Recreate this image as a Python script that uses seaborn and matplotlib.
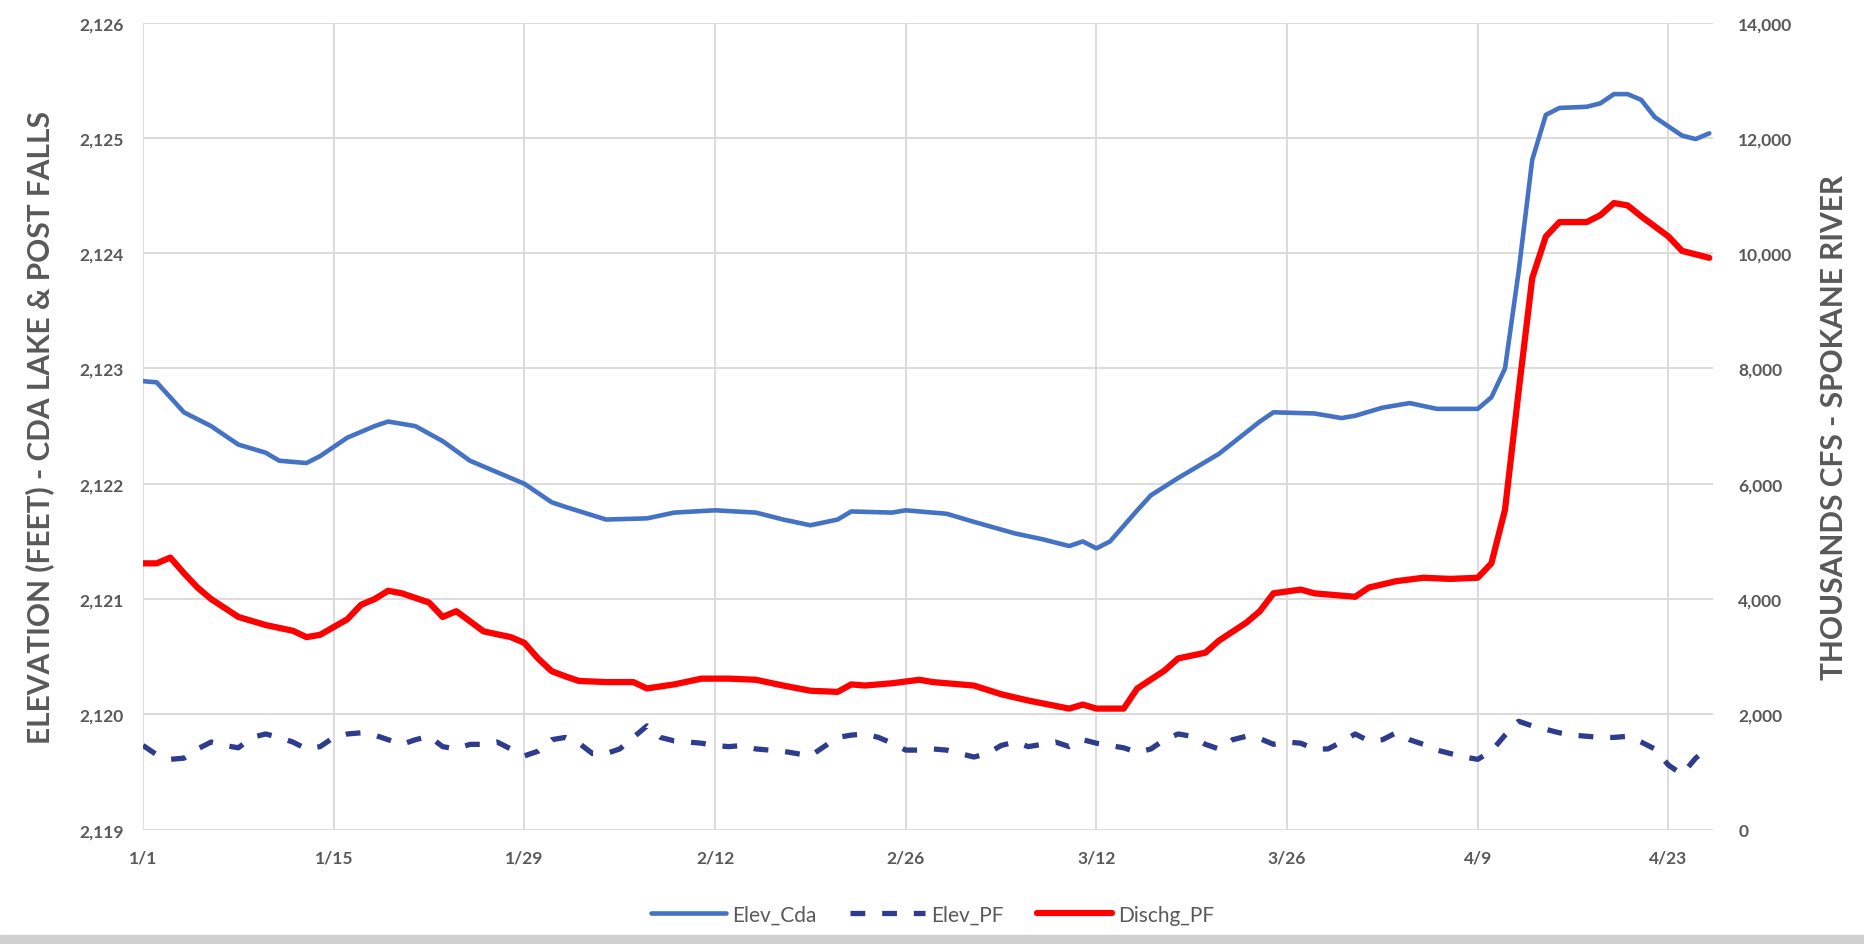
import pandas as pd
import numpy as np
import seaborn as sns
import matplotlib.pyplot as plt
from matplotlib.patches import Rectangle

# day offsets from Jan 1 (non-leap year) and values
cda_day = [0, 1, 2, 3, 5, 7, 9, 10, 12, 13, 15, 17, 18, 20, 22, 24, 26, 28, 30, 31,
           34, 37, 39, 42, 45, 47, 49, 51, 52, 55, 56, 59, 61, 64, 66, 68, 69, 70, 71,
           73, 74, 76, 79, 82, 83, 86, 88, 89, 91, 93, 95, 98, 99, 100, 101, 102, 103,
           104, 106, 107, 108, 109, 110, 111, 113, 114, 115]
cda_ft = [2122.89, 2122.88, 2122.75, 2122.62, 2122.50, 2122.34, 2122.27, 2122.20, 2122.18,
          2122.24, 2122.40, 2122.50, 2122.54, 2122.50, 2122.37, 2122.20, 2122.10, 2122.00,
          2121.84, 2121.80, 2121.69, 2121.70, 2121.75, 2121.77, 2121.75, 2121.69, 2121.64,
          2121.69, 2121.76, 2121.75, 2121.77, 2121.74, 2121.67, 2121.57, 2121.52, 2121.46,
          2121.50, 2121.44, 2121.50, 2121.77, 2121.90, 2122.05, 2122.26, 2122.54, 2122.62,
          2122.61, 2122.57, 2122.59, 2122.66, 2122.70, 2122.65, 2122.65, 2122.75, 2123.00,
          2123.84, 2124.81, 2125.20, 2125.26, 2125.27, 2125.30, 2125.38, 2125.38, 2125.33,
          2125.18, 2125.02, 2124.99, 2125.04]

# Post Falls elevation, one reading per day from 1/1
pf_ft = [2119.73, 2119.65, 2119.61, 2119.62, 2119.70, 2119.76, 2119.73, 2119.71, 2119.80,
         2119.83, 2119.80, 2119.76, 2119.70, 2119.72, 2119.80, 2119.83, 2119.84, 2119.82,
         2119.78, 2119.74, 2119.78, 2119.81, 2119.72, 2119.70, 2119.74, 2119.74, 2119.76,
         2119.70, 2119.64, 2119.68, 2119.78, 2119.80, 2119.75, 2119.66, 2119.66, 2119.70,
         2119.80, 2119.90, 2119.80, 2119.77, 2119.76, 2119.75, 2119.73, 2119.72, 2119.73,
         2119.70, 2119.69, 2119.68, 2119.66, 2119.64, 2119.72, 2119.80, 2119.82, 2119.83,
         2119.80, 2119.75, 2119.69, 2119.69, 2119.70, 2119.69, 2119.66, 2119.63, 2119.66,
         2119.73, 2119.76, 2119.72, 2119.74, 2119.76, 2119.72, 2119.78, 2119.75, 2119.73,
         2119.71, 2119.67, 2119.70, 2119.78, 2119.83, 2119.81, 2119.74, 2119.70, 2119.78,
         2119.81, 2119.79, 2119.74, 2119.76, 2119.75, 2119.70, 2119.70, 2119.76, 2119.83,
         2119.77, 2119.78, 2119.84, 2119.78, 2119.74, 2119.69, 2119.66, 2119.63, 2119.61,
         2119.68, 2119.82, 2119.94, 2119.90, 2119.87, 2119.84, 2119.82, 2119.81, 2119.80,
         2119.80, 2119.81, 2119.76, 2119.70, 2119.56, 2119.48, 2119.62, 2119.72]
pf_day = list(range(len(pf_ft)))

dis_day = [0, 1, 2, 3, 4, 5, 7, 9, 10, 11, 12, 13, 15, 16, 17, 18, 19, 21, 22, 23, 25, 27,
           28, 29, 30, 31, 32, 34, 36, 37, 39, 41, 43, 45, 47, 49, 51, 52, 53, 55, 57, 58,
           61, 63, 65, 68, 69, 70, 72, 73, 75, 76, 78, 79, 81, 82, 83, 85, 86, 88, 89, 90,
           92, 94, 96, 98, 99, 100, 101, 102, 103, 104, 106, 107, 108, 109, 110, 112, 113, 115]
dis_cfs = [4620, 4620, 4720, 4450, 4200, 4000, 3690, 3550, 3500, 3450, 3340, 3380, 3650,
           3900, 4000, 4145, 4100, 3940, 3690, 3790, 3440, 3340, 3240, 2970, 2750, 2660,
           2580, 2560, 2560, 2450, 2520, 2620, 2620, 2600, 2500, 2410, 2390, 2520, 2500,
           2540, 2600, 2560, 2500, 2350, 2240, 2100, 2170, 2100, 2100, 2450, 2760, 2970,
           3070, 3280, 3590, 3790, 4100, 4165, 4100, 4060, 4040, 4200, 4310, 4370, 4350,
           4370, 4620, 5550, 7600, 9570, 10290, 10540, 10540, 10660, 10870, 10830, 10640,
           10290, 10040, 9920]

tick_days = [0, 14, 28, 42, 56, 70, 84, 98, 112]
tick_labels = ["1/1", "1/15", "1/29", "2/12", "2/26", "3/12", "3/26", "4/9", "4/23"]

sns.set_theme(style="whitegrid")
plt.rcParams['font.family'] = ['Lato', 'DejaVu Sans']

txt = "#595959"
fig = plt.figure(figsize=(18.65, 9.45), dpi=100)
ax = fig.add_axes([0.0767, 0.121, 0.842, 0.854])
ax2 = ax.twinx()

sns.lineplot(x=cda_day, y=cda_ft, ax=ax, color="#4472C4", lw=3.3, label="Elev_Cda", legend=False)
sns.lineplot(x=pf_day, y=pf_ft, ax=ax, color="#2F3B8C", lw=3.8, label="Elev_PF", legend=False)
ax.lines[-1].set_dashes((2.8, 3.2))
sns.lineplot(x=dis_day, y=dis_cfs, ax=ax2, color="#FF0000", lw=4.5, label="Dischg_PF", legend=False)

ax.set_xlim(0, 115.3)
ax.set_ylim(2119, 2126)
ax2.set_ylim(0, 14000)
ax.set_xticks(tick_days)
ax.set_xticklabels(tick_labels)
ax.set_yticks(range(2119, 2127))
ax.set_yticklabels([f"{v:,}" for v in range(2119, 2127)])
ax2.set_yticks(range(0, 14001, 2000))
ax2.set_yticklabels([f"{v:,}" for v in range(0, 14001, 2000)])
ax2.grid(False)
ax.grid(True, color="#D9D9D9", lw=1.3)
for a in (ax, ax2):
    for s in a.spines.values():
        s.set_visible(False)
    a.tick_params(length=0, labelsize=12.5, labelcolor=txt)
ax.tick_params(axis='x', pad=14)
ax.tick_params(axis='y', pad=14)
ax2.tick_params(axis='y', pad=18)
for lab in ax.get_xticklabels() + ax.get_yticklabels() + ax2.get_yticklabels():
    lab.set_fontweight("bold")

ax.set_ylabel("ELEVATION (FEET) - CDA LAKE & POST FALLS", fontsize=21.5, fontweight="bold",
              color=txt, labelpad=18)
ax2.set_ylabel("THOUSANDS CFS - SPOKANE RIVER", fontsize=21.5, fontweight="bold",
               color=txt, labelpad=20)

h1, l1 = ax.get_legend_handles_labels()
h2, l2 = ax2.get_legend_handles_labels()
fig.legend(h1 + h2, l1 + l2, loc="center", bbox_to_anchor=(0.5, 0.031), ncol=3, frameon=False,
           fontsize=15, labelcolor=txt, handlelength=3.6, handletextpad=0.3, columnspacing=1.6)

fig.patches.append(Rectangle((0, 0), 1, 0.01, transform=fig.transFigure, color="#CFCFCF", zorder=0))

fig.savefig("out.png", dpi=100)
